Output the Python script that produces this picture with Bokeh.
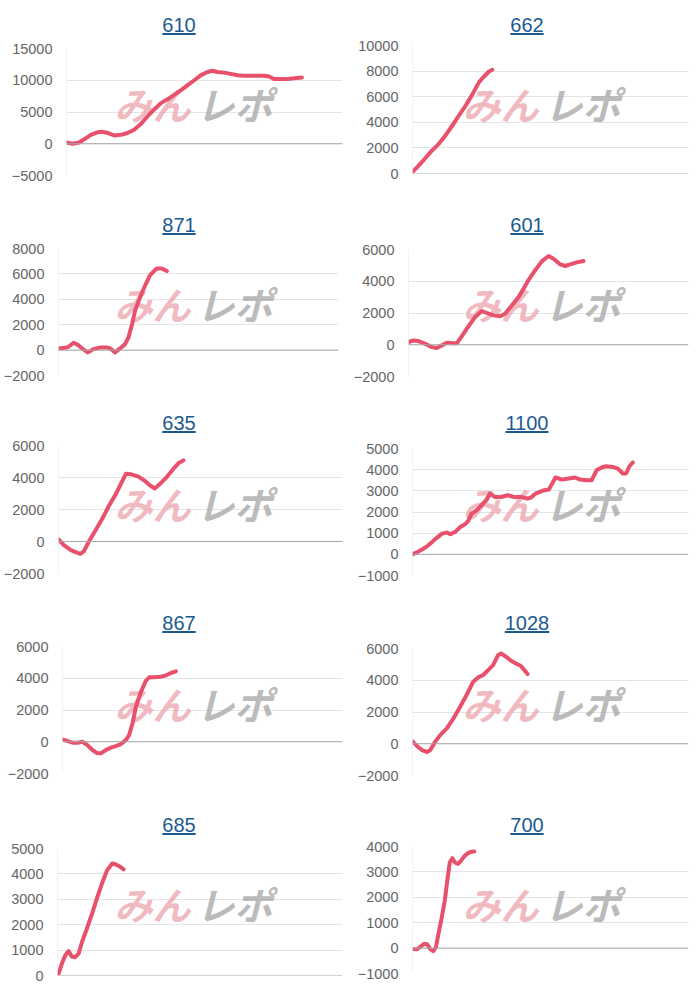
from bokeh.plotting import figure
from bokeh.layouts import column, row
from bokeh.models import Div, Range1d, FixedTicker, Span, Label
from bokeh.embed import file_html
from bokeh.resources import INLINE

titles = ["610", "662", "871", "601", "635", "1100", "867", "1028", "685", "700"]

# x: progress along the horizontal axis (0-100), y: cumulative difference
x_610 = [0, 2.2, 4.6, 6.4, 8.8, 11.2, 13.0, 14.9, 17.3, 19.7, 22.1, 24.5, 26.9, 29.3, 31.8, 34.2, 36.6, 39.0, 41.4, 43.8,
         46.3, 48.7, 51.1, 52.9, 54.7, 57.1, 59.5, 62.0, 64.4, 66.8, 69.2, 71.6, 73.4, 75.2, 77.7, 80.1, 82.5, 85.3]
y_610 = [200, 0, 200, 700, 1400, 1800, 1900, 1700, 1300, 1400, 1700, 2200, 3100, 4300, 5400, 6400, 7000, 7700, 8400, 9200,
         10000, 10800, 11300, 11500, 11300, 11200, 11000, 10800, 10700, 10700, 10700, 10700, 10600, 10200, 10200, 10200, 10300, 10450]

x_662 = [0, 1.8, 4.2, 6.6, 9.6, 12.0, 14.5, 16.9, 19.3, 21.7, 24.1, 25.9, 27.7, 28.9]
y_662 = [130, 520, 1090, 1690, 2340, 2990, 3770, 4550, 5320, 6180, 7140, 7580, 7970, 8100]

x_871 = [0, 2.4, 3.6, 5.4, 7.1, 8.9, 10.4, 12.5, 14.9, 17.3, 18.5, 20.2, 22.0, 23.8, 25.0, 26.2, 27.4, 29.2, 31.0, 32.7,
         35.1, 36.9, 38.7]
y_871 = [130, 180, 260, 580, 390, 50, -180, 80, 210, 210, 130, -180, 130, 470, 1000, 1970, 3150, 4200, 5120, 5900,
         6430, 6430, 6220]

x_601 = [0, 1.8, 3.6, 6.0, 8.3, 10.1, 11.9, 13.7, 16.1, 17.3, 19.0, 21.4, 23.8, 26.2, 28.0, 30.4, 32.7, 34.5, 36.9, 39.3,
         41.1, 42.9, 45.2, 47.6, 50.0, 51.8, 54.2, 56.0, 57.7, 60.1, 62.5]
y_601 = [170, 270, 230, 60, -150, -210, -40, 130, 100, 100, 530, 1160, 1750, 2120, 2000, 1850, 1790, 1950, 2480, 3000,
         3530, 4090, 4680, 5250, 5590, 5420, 5060, 4960, 5060, 5190, 5270]

x_635 = [0, 1.8, 4.2, 6.0, 7.7, 8.9, 10.7, 13.1, 15.5, 17.9, 20.2, 22.0, 23.8, 25.6, 28.0, 30.4, 32.1, 33.9, 35.7, 38.1,
         40.5, 42.3, 44.0]
y_635 = [140, -210, -520, -660, -770, -620, 0, 720, 1450, 2280, 2960, 3620, 4240, 4200, 4070, 3790, 3520, 3310, 3590, 4030,
         4550, 4900, 5070]

x_1100 = [0, 1.8, 3.6, 5.4, 7.1, 8.9, 10.7, 12.5, 13.7, 15.5, 17.3, 19.0, 20.2, 21.4, 23.2, 25.0, 26.8, 28.0, 29.8, 32.1,
          34.5, 36.9, 39.3, 41.7, 42.9, 44.6, 47.0, 49.4, 50.6, 51.8, 54.2, 56.5, 58.9, 60.7, 63.1, 64.9, 66.7, 68.5, 70.2,
          72.6, 74.4, 76.2, 77.4, 78.6, 79.8]
y_1100 = [0, 110, 240, 390, 580, 790, 980, 1030, 950, 1060, 1290, 1420, 1580, 1920, 2080, 2320, 2560, 2870, 2710, 2710,
          2790, 2710, 2710, 2630, 2680, 2870, 3000, 3060, 3340, 3630, 3530, 3580, 3630, 3530, 3500, 3500, 3970, 4100, 4160,
          4130, 4050, 3820, 3820, 4160, 4340]

x_867 = [0, 1.8, 3.6, 5.4, 7.1, 8.9, 10.7, 12.5, 13.7, 15.5, 17.3, 19.0, 20.8, 22.6, 23.8, 25.0, 26.2, 28.0, 29.8, 31.0,
         32.7, 35.1, 36.9, 38.7, 40.5]
y_867 = [150, 40, -60, -60, 0, -210, -520, -730, -730, -520, -370, -270, -150, 100, 420, 1150, 2190, 3130, 3850, 4060,
         4060, 4100, 4170, 4330, 4440]

x_1028 = [0, 1.8, 3.6, 5.4, 6.5, 8.3, 10.1, 12.5, 14.9, 17.3, 19.6, 22.0, 23.8, 25.6, 27.4, 29.2, 31.0, 32.1, 33.9, 35.7,
          37.5, 39.3, 40.5, 41.7]
y_1028 = [150, -170, -420, -520, -380, 150, 560, 980, 1610, 2340, 3070, 3910, 4180, 4330, 4640, 4950, 5580, 5690, 5480, 5230,
          5060, 4900, 4640, 4390]

x_685 = [0.4, 1.5, 2.7, 3.9, 5.0, 6.2, 7.4, 8.6, 10.3, 12.1, 13.8, 15.6, 17.4, 19.2, 20.3, 22.0, 23.2]
y_685 = [70, 460, 790, 960, 750, 720, 860, 1320, 1840, 2430, 3030, 3620, 4140, 4410, 4380, 4280, 4180]

x_700 = [0, 1.6, 2.7, 4.2, 5.4, 6.3, 7.5, 8.5, 9.4, 10.5, 11.7, 12.6, 13.5, 14.4, 15.4, 16.5, 17.7, 18.9, 20.0, 21.2, 22.4]
y_700 = [-30, -50, 40, 170, 140, -30, -120, 40, 560, 1150, 1870, 2650, 3370, 3540, 3370, 3310, 3460, 3630, 3730, 3790, 3800]

ticks_610 = [-5000, 0, 5000, 10000, 15000]
ticks_662 = [0, 2000, 4000, 6000, 8000, 10000]
ticks_871 = [-2000, 0, 2000, 4000, 6000, 8000]
ticks_601 = [-2000, 0, 2000, 4000, 6000]
ticks_635 = [-2000, 0, 2000, 4000, 6000]
ticks_1100 = [-1000, 0, 1000, 2000, 3000, 4000, 5000]
ticks_867 = [-2000, 0, 2000, 4000, 6000]
ticks_1028 = [-2000, 0, 2000, 4000, 6000]
ticks_685 = [0, 1000, 2000, 3000, 4000, 5000]
ticks_700 = [-1000, 0, 1000, 2000, 3000, 4000]

series = [(x_610, y_610, ticks_610), (x_662, y_662, ticks_662), (x_871, y_871, ticks_871), (x_601, y_601, ticks_601),
          (x_635, y_635, ticks_635), (x_1100, y_1100, ticks_1100), (x_867, y_867, ticks_867),
          (x_1028, y_1028, ticks_1028), (x_685, y_685, ticks_685), (x_700, y_700, ticks_700)]

# ---- layout (page pixel positions; the page renders with no body margin) ----
ROW_Y = [0, 200, 400, 600, 800]
ROW_END = [200, 400, 600, 800, 996]
DIV_H = [38, 38, 38, 38, 38]
TITLE_PAD = [15, 15, 13, 13, 15]
COL_X = [0, 350]
COL_W = 348
frame_left = [66, 412, 58, 408, 58, 412, 62, 412, 57, 412]
frame_right = [342, 688, 338, 688, 342, 688, 342, 688, 342, 688]
frame_top = [48, 45, 248, 249, 445, 448, 646, 648, 848, 846]
frame_bot = [175, 173, 375, 376, 573, 575, 773, 775, 975, 973]
WM_X = [114, 462]

LINE_COLOR = "#e8506c"
FONT = "Liberation Sans"

rows = []
for r in range(5):
    cells = []
    for c in range(2):
        i = r * 2 + c
        xs, ys, ticks = series[i]
        fig_top = ROW_Y[r] + DIV_H[r]
        fig_h = ROW_END[r] - fig_top
        cw = 350 if c == 0 else COL_W
        p = figure(width=cw, height=fig_h, output_backend="svg", toolbar_location=None,
                   x_axis_type=None,
                   x_range=Range1d(0, 100), y_range=Range1d(ticks[0], ticks[-1]),
                   min_border_left=frame_left[i] - COL_X[c],
                   min_border_right=COL_X[c] + cw - frame_right[i],
                   min_border_top=frame_top[i] - fig_top,
                   min_border_bottom=ROW_END[r] - frame_bot[i])
        p.outline_line_color = None
        p.yaxis.ticker = FixedTicker(ticks=ticks)
        p.yaxis.axis_line_color = None
        p.yaxis.major_tick_line_color = None
        p.yaxis.minor_tick_line_color = None
        p.yaxis.major_tick_out = 0
        p.yaxis.major_tick_in = 0
        p.yaxis.minor_tick_out = 0
        p.yaxis.major_label_standoff = 14
        p.yaxis.major_label_text_font = FONT
        p.yaxis.major_label_text_font_size = "14.5px"
        p.yaxis.major_label_text_color = "#666666"
        p.ygrid.grid_line_color = "#e4e4e4"
        p.add_layout(Span(location=0, dimension="height", line_color="#e4e4e4", line_width=1))
        p.add_layout(Span(location=0, dimension="width", line_color="#a8a8a8", line_width=1))
        wm_y = frame_bot[i] - (ROW_Y[r] + 103)
        wx = WM_X[c] - frame_left[i]
        p.add_layout(Label(x=wx, y=wm_y, x_units="screen", y_units="screen", text="みん",
                           text_font="Noto Sans CJK JP", text_font_style="bold italic",
                           text_font_size="38px", text_color="#eda3ab", text_alpha=0.75,
                           text_baseline="middle", level="underlay"))
        p.add_layout(Label(x=wx + 82, y=wm_y, x_units="screen", y_units="screen", text="レポ",
                           text_font="Noto Sans CJK JP", text_font_style="bold italic",
                           text_font_size="38px", text_color="#a9a9a9", text_alpha=0.8,
                           text_baseline="middle", level="underlay"))
        p.line(xs, ys, line_color=LINE_COLOR, line_width=4, line_join="round", line_cap="round")
        pad_left = 6 if c == 1 else 8
        html = (f'<div style="box-sizing:border-box;width:{cw}px;text-align:center;'
                f'padding-top:{TITLE_PAD[r]}px;padding-left:{pad_left}px;font-family:\'{FONT}\';'
                f'font-size:20px;line-height:20px;">'
                f'<a style="color:#1b5a91;text-decoration:underline;">{titles[i]}</a></div>')
        d = Div(text=html, width=cw, height=DIV_H[r], margin=0)
        cells.append(column(d, p, spacing=0))
    rows.append(row(*cells, spacing=0))

layout = column(*rows, spacing=0)
open("out.html", "w").write(file_html(layout, INLINE))
